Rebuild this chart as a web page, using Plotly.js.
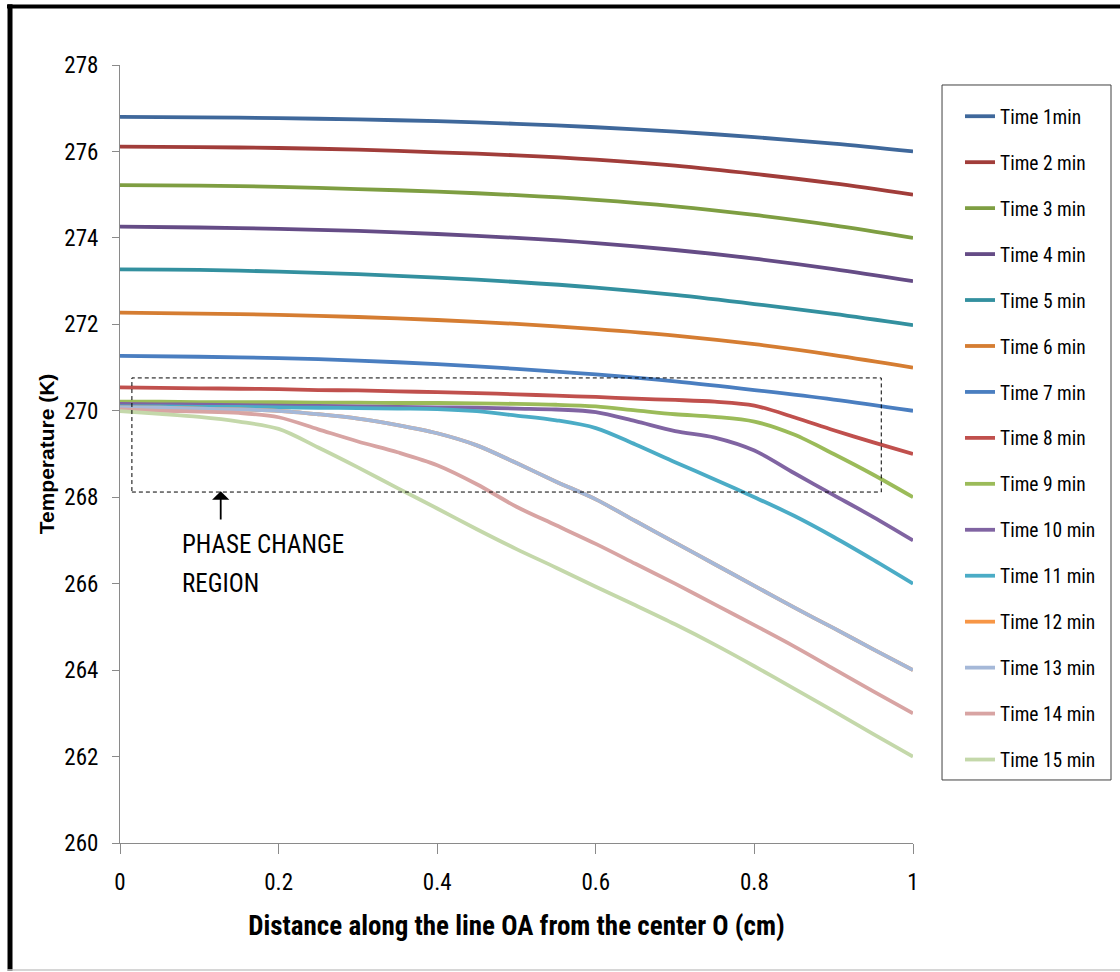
<!DOCTYPE html>
<html>
<head>
<meta charset="utf-8">
<script src="https://cdn.plot.ly/plotly-3.0.1.min.js"></script>
<style>
html,body{margin:0;padding:0;background:#fff;}
#chart{width:1120px;height:972px;}
</style>
</head>
<body>
<div id="chart"></div>
<script>
// x positions (cm)
const xCoarse = [0,0.1,0.2,0.3,0.4,0.5,0.6,0.7,0.8,0.9,1.0];
const xFine = [0,0.05,0.1,0.15,0.2,0.25,0.3,0.35,0.4,0.45,0.5,0.55,0.6,0.65,0.7,0.75,0.8,0.85,0.9,0.95,1.0];

const seriesNames = ["Time 1min","Time 2 min","Time 3 min","Time 4 min","Time 5 min","Time 6 min","Time 7 min",
  "Time 8 min","Time 9 min","Time 10 min","Time 11 min","Time 12 min","Time 13 min","Time 14 min","Time 15 min"];
const seriesColors = ["#3F689B","#A13D3A","#7E9E42","#654C86","#33909F","#D57D32","#4A7EC0",
  "#C0504D","#9BBB59","#8064A2","#4BACC6","#F79646","#A5B8D8","#D8A4A3","#C4D8AA"];

// coarse-grid series (K)
const t1 = [276.80,276.79,276.77,276.74,276.70,276.64,276.56,276.46,276.33,276.18,276.00];
const t2 = [276.11,276.10,276.08,276.04,275.98,275.91,275.81,275.67,275.48,275.26,275.00];
const t3 = [275.22,275.21,275.18,275.13,275.07,274.99,274.88,274.73,274.53,274.29,274.00];
const t4 = [274.26,274.24,274.21,274.16,274.09,274.00,273.88,273.72,273.52,273.28,273.00];
const t5 = [273.27,273.26,273.22,273.16,273.08,272.98,272.85,272.68,272.47,272.24,271.98];
const t6 = [272.27,272.25,272.22,272.17,272.10,272.01,271.89,271.74,271.54,271.29,271.00];
const t7 = [271.27,271.25,271.22,271.16,271.08,270.97,270.84,270.68,270.48,270.26,270.00];
// fine-grid series (K)
const t8  = [270.54,270.53,270.52,270.51,270.50,270.48,270.47,270.45,270.43,270.41,270.38,270.35,270.32,270.28,270.25,270.21,270.12,269.85,269.55,269.27,269.00];
const t9  = [270.21,270.21,270.20,270.20,270.20,270.19,270.19,270.18,270.18,270.17,270.16,270.14,270.10,270.01,269.92,269.86,269.75,269.45,269.00,268.52,268.00];
const t10 = [270.16,270.15,270.14,270.13,270.12,270.11,270.10,270.09,270.08,270.07,270.05,270.03,269.97,269.76,269.53,269.38,269.08,268.56,268.05,267.54,267.00];
const t11 = [270.10,270.10,270.09,270.09,270.08,270.07,270.06,270.05,270.04,269.99,269.89,269.78,269.60,269.22,268.81,268.41,268.00,267.57,267.08,266.55,266.00];
const t12 = [270.08,270.07,270.05,270.03,270.00,269.92,269.82,269.67,269.48,269.20,268.79,268.36,267.95,267.45,266.95,266.45,265.95,265.45,264.97,264.48,264.00];
const t13 = [270.08,270.07,270.05,270.03,270.00,269.92,269.82,269.67,269.48,269.20,268.79,268.36,267.95,267.45,266.95,266.45,265.95,265.45,264.97,264.48,264.00];
const t14 = [270.03,270.00,269.98,269.95,269.85,269.57,269.29,269.04,268.74,268.30,267.78,267.35,266.92,266.46,266.00,265.52,265.04,264.55,264.03,263.51,263.00];
const t15 = [269.99,269.93,269.86,269.75,269.58,269.15,268.69,268.21,267.74,267.26,266.80,266.37,265.93,265.50,265.06,264.59,264.09,263.57,263.05,262.52,262.00];

const yTickVals = [260,262,264,266,268,270,272,274,276,278];
const xTickVals = [0,0.2,0.4,0.6,0.8,1];

const allY = [t1,t2,t3,t4,t5,t6,t7,t8,t9,t10,t11,t12,t13,t14,t15];
const FONT = "Roboto Condensed, Liberation Sans Narrow, sans-serif";
const BOLDFONT = "Liberation Sans, Arial, sans-serif";

const traces = allY.map((ys, i) => ({
  type: 'scatter', mode: 'lines',
  x: ys.length === xCoarse.length ? xCoarse : xFine,
  y: ys,
  name: seriesNames[i],
  legendgroup: 'g' + i,
  line: {color: seriesColors[i], width: 3.8, shape: 'spline', smoothing: 0.9}
}));

const layout = {
  width: 1120, height: 972,
  margin: {l: 120, r: 207, t: 65, b: 129, pad: 0, autoexpand: false},
  paper_bgcolor: '#fff', plot_bgcolor: '#fff',
  font: {family: FONT, color: '#000', size: 20},
  showlegend: true,
  legend: {
    x: 1.0593, y: 0.9588, xanchor: 'left', yanchor: 'top',
    borderwidth: 0, bgcolor: 'rgba(255,255,255,0)',
    font: {family: FONT, size: 19.5, color: '#000'},
    traceorder: 'grouped', tracegroupgap: 17.6,
    itemwidth: 30
  },
  xaxis: {
    range: [0, 1], tickvals: xTickVals, ticktext: xTickVals.map(String),
    showgrid: false, zeroline: false, showline: true, linecolor: '#8a8a8a', linewidth: 1,
    ticks: 'outside', ticklen: 10, tickcolor: '#8a8a8a', tickwidth: 1,
    tickfont: {family: FONT, size: 23, color: '#000'},
    ticklabelstandoff: 8,
    title: {text: 'Distance along the line OA from the center O (cm)',
      font: {family: FONT, size: 27, color: '#000', weight: 'bold'}, standoff: 21}
  },
  yaxis: {
    range: [260, 278], tickvals: yTickVals, ticktext: yTickVals.map(String),
    showgrid: false, zeroline: false, showline: true, linecolor: '#8a8a8a', linewidth: 1,
    ticks: 'outside', ticklen: 7, tickcolor: '#8a8a8a', tickwidth: 1,
    tickfont: {family: FONT, size: 23, color: '#000'},
    ticklabelstandoff: 9,
    title: {text: 'Temperature (K)',
      font: {family: BOLDFONT, size: 21, color: '#000', weight: 'bold'}, standoff: 3}
  },
  shapes: [
    // dashed phase change box
    {type: 'rect', xref: 'x', yref: 'y', x0: 0.015, x1: 0.96, y0: 268.12, y1: 270.76,
      line: {color: '#000', width: 1, dash: '4px,3px'}, fillcolor: 'rgba(0,0,0,0)', layer: 'above'},
    // legend frame
    {type: 'rect', xref: 'paper', yref: 'paper', x0: 1.0366, x1: 1.2497, y0: 0.081, y1: 0.9743,
      line: {color: '#404040', width: 1}, fillcolor: 'rgba(0,0,0,0)'},
    // outer frame
    {type: 'line', xref: 'paper', yref: 'paper', x0: -0.1425, x1: 1.262, y0: 1.0752, y1: 1.0752,
      line: {color: '#000', width: 4}},
    {type: 'line', xref: 'paper', yref: 'paper', x0: -0.1387, x1: -0.1387, y0: 1.078, y1: -0.1645,
      line: {color: '#000', width: 5}},
    {type: 'line', xref: 'paper', yref: 'paper', x0: -0.1425, x1: 1.262, y0: -0.1632, y1: -0.1632,
      line: {color: '#c8c8c8', width: 1.5}}
  ],
  annotations: [
    {xref: 'x', yref: 'y', x: 0.127, y: 268.14, ax: 0.127, ay: 267.45, axref: 'x', ayref: 'y',
      showarrow: true, arrowhead: 1, arrowsize: 1.6, arrowwidth: 1.8, arrowcolor: '#000', text: ''},
    {xref: 'x', yref: 'y', x: 0.0757, y: 266.9, xanchor: 'left', yanchor: 'middle', showarrow: false,
      text: 'PHASE CHANGE', font: {family: FONT, size: 25, color: '#000'}},
    {xref: 'x', yref: 'y', x: 0.0757, y: 266.0, xanchor: 'left', yanchor: 'middle', showarrow: false,
      text: 'REGION', font: {family: FONT, size: 25, color: '#000'}}
  ]
};

Plotly.newPlot('chart', traces, layout, {displayModeBar: false, staticPlot: true});
</script>
</body>
</html>
